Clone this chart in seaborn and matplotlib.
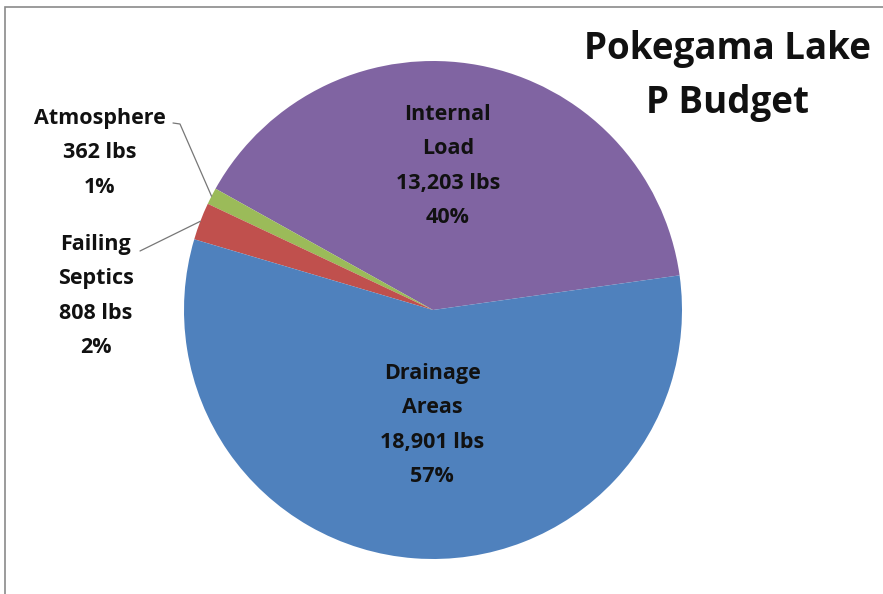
import numpy as np
import matplotlib
matplotlib.use("Agg")
import matplotlib.pyplot as plt
import seaborn as sns

# data for the P budget
sources = ["Internal Load", "Atmosphere", "Failing Septics", "Drainage Areas"]
loads_lbs = [13203, 362, 808, 18901]
percents = [40, 1, 2, 57]
colors = ["#8064A2", "#9BBB59", "#C0504D", "#4F81BD"]

sns.set_theme(style="white")
plt.rcParams["font.family"] = ["Open Sans", "DejaVu Sans"]

W, H = 883, 594
fig = plt.figure(figsize=(W / 100, H / 100), dpi=100)
ax = fig.add_axes([0, 0, 1, 1])

cx, cy, r = 433, 310, 249

def px(x, y):
    # pixel coords (y down) -> data coords (y up)
    return x, H - y

wedges, _ = ax.pie(loads_lbs, colors=colors, startangle=8, counterclock=True,
                   center=px(cx, cy), radius=r, frame=True,
                   wedgeprops=dict(linewidth=0))

ax.set_xlim(0, W)
ax.set_ylim(0, H)
ax.set_aspect("auto")
ax.axis("off")

# outer frame of the chart area
fig.patches.append(plt.Rectangle((5 / W, -0.1), 1.2, 1 - 7 / H + 0.1,
                                 transform=fig.transFigure, fill=False,
                                 edgecolor="#8a8a8a", linewidth=1.2))

def label(i):
    name = sources[i].replace(" ", "\n")
    return f"{name}\n{loads_lbs[i]:,} lbs\n{percents[i]}%"

txt = dict(fontsize=15.5, fontweight="bold", color="#111111", ha="center",
           va="center", linespacing=1.82)

ax.text(*px(448, 166), label(0), **txt)
ax.text(*px(432, 425), label(3), **txt)
ax.text(*px(100, 153), label(1), **txt)
ax.text(*px(96, 296), label(2), **txt)

# leader lines from small slices to their labels
def edge_point(w):
    mid = np.deg2rad((w.theta1 + w.theta2) / 2)
    return w.center[0] + r * np.cos(mid), w.center[1] + r * np.sin(mid)

ex, ey = edge_point(wedges[1])
x0, y0 = px(173, 123)
x1, y1 = px(180, 124)
ax.plot([x0, x1, ex], [y0, y1, ey], color="#777777", lw=0.9)

ex, ey = edge_point(wedges[2])
x0, y0 = px(140, 251)
ax.plot([x0, ex], [y0, ey], color="#777777", lw=0.9)

ax.text(*px(727, 76), "Pokegama Lake\nP Budget", fontsize=26.5, fontweight="bold",
        color="#111111", ha="center", va="center", linespacing=1.55)

fig.savefig("out.png", dpi=100)
